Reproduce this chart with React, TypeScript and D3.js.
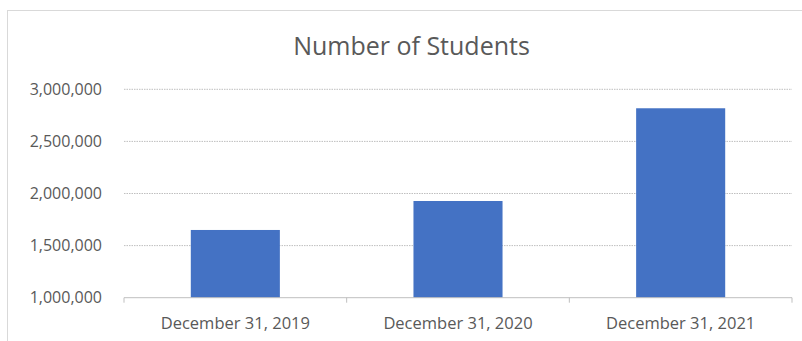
import React from "react";
import * as d3 from "d3";

const categories = ["December 31, 2019", "December 31, 2020", "December 31, 2021"];
const students = [1650000, 1928000, 2818000];
const yTicks = [1000000, 1500000, 2000000, 2500000, 3000000];
const title = "Number of Students";

const W = 802;
const H = 341;
const FONT = "'Open Sans', sans-serif";

export default function App() {
  const left = 124;
  const right = 792;
  const x = d3.scaleBand<string>().domain(categories).range([left, right]).paddingInner(0.6).paddingOuter(0.3);
  const xb = d3.scaleBand<string>().domain(categories).range([left, right]);
  const y = d3.scaleLinear().domain([1000000, 3000000]).range([297.7, 89.3]);
  const fmt = d3.format(",");
  return (
    <svg width={W} height={H} style={{ position: "absolute", left: 0, top: 0, background: "#fff" }}>
      <rect x={7.5} y={10.5} width={W} height={H} fill="#fff" stroke="#d9d9d9" />
      <text x={411.5} y={54.5} textAnchor="middle" fontFamily={FONT} fontSize={25} fill="#595959">
        {title}
      </text>
      {yTicks.map((t) => (
        <g key={t}>
          {t !== 1000000 && (
            <line x1={left} x2={right} y1={y(t)} y2={y(t)} stroke="#bfbfbf" strokeWidth={1} strokeDasharray="1.5 1" />
          )}
          <text x={102} y={y(t)} dy="0.35em" textAnchor="end" fontFamily={FONT} fontSize={16} fill="#595959">
            {fmt(t)}
          </text>
        </g>
      ))}
      {categories.map((c, i) => (
        <rect key={c} x={x(c)} y={y(students[i])} width={x.bandwidth()} height={y(1000000) - y(students[i])} fill="#4472C4" />
      ))}
      <line x1={left} x2={right} y1={y(1000000)} y2={y(1000000)} stroke="#bfbfbf" strokeWidth={1} />
      {[...categories.map((c) => xb(c) as number), right].map((v, i) => (
        <line key={i} x1={v} x2={v} y1={y(1000000)} y2={y(1000000) + 5} stroke="#bfbfbf" />
      ))}
      {categories.map((c) => (
        <text key={c} x={(xb(c) as number) + xb.bandwidth() / 2} y={328.5} textAnchor="middle" fontFamily={FONT} fontSize={16.5} fill="#595959">
          {c}
        </text>
      ))}
    </svg>
  );
}
